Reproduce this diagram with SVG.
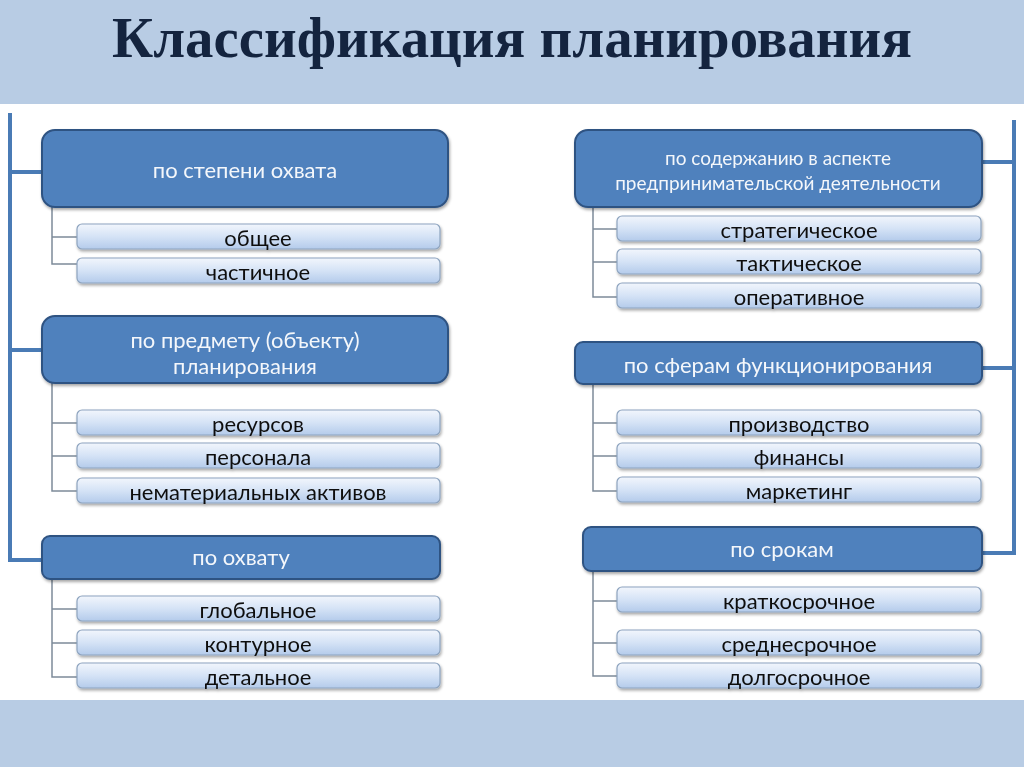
<svg xmlns="http://www.w3.org/2000/svg" width="1024" height="767" viewBox="0 0 1024 767">
<defs>
<linearGradient id="subg" x1="0" y1="0" x2="0" y2="1">
<stop offset="0" stop-color="#f2f6fc"/>
<stop offset="0.5" stop-color="#d5e3f6"/>
<stop offset="1" stop-color="#b4cbeb"/>
</linearGradient>
<filter id="sh" x="-5%" y="-20%" width="110%" height="150%">
<feGaussianBlur in="SourceAlpha" stdDeviation="1.5"/>
<feOffset dx="1" dy="2" result="o"/>
<feComponentTransfer><feFuncA type="linear" slope="0.35"/></feComponentTransfer>
<feMerge><feMergeNode/><feMergeNode in="SourceGraphic"/></feMerge>
</filter>
</defs>
<style>
.hdr{fill:#4f81bd;stroke:#2f5382;stroke-width:2}
.sub{fill:url(#subg);stroke:#8ea4bf;stroke-width:1.2}
.ht{font-family:Lato,"Open Sans","Liberation Sans",sans-serif;font-size:22px;fill:#f4f7fb;text-anchor:middle}
.ht2{font-size:19px}
.st{font-family:Lato,"Open Sans","Liberation Sans",sans-serif;font-size:22px;fill:#111;text-anchor:middle}
.thick{fill:none;stroke:#4a7bb5;stroke-width:4}
.thin{fill:none;stroke:#7d8b99;stroke-width:1.5}
</style>
<rect x="0" y="0" width="1024" height="767" fill="#ffffff"/>
<rect x="0" y="0" width="1024" height="104" fill="#b8cce4"/>
<rect x="0" y="700" width="1024" height="67" fill="#b8cce4"/>
<text x="512" y="57" text-anchor="middle" font-family="'Liberation Serif',serif" font-weight="bold" font-size="58" fill="#14243f" textLength="800" lengthAdjust="spacingAndGlyphs">Классификация планирования</text>

<g id="connectors">
<path class="thick" d="M10 113 V560 H42 M10 172 H42 M10 350 H42"/>
<path class="thick" d="M1014 120 V553 H982 M1014 162 H982 M1014 368 H982"/>
<path class="thin" d="M52 207 V264 H77 M52 237 H77"/>
<path class="thin" d="M52 383 V491 H77 M52 423 H77 M52 456 H77"/>
<path class="thin" d="M52 579 V677 H77 M52 609 H77 M52 643 H77"/>
<path class="thin" d="M593 207 V297 H617 M593 229 H617 M593 262 H617"/>
<path class="thin" d="M593 384 V491 H617 M593 423 H617 M593 456 H617"/>
<path class="thin" d="M593 571 V676 H617 M593 601 H617 M593 643 H617"/>
</g>

<g id="h1" filter="url(#sh)"><rect class="hdr" x="42" y="130" width="406" height="77" rx="13"/><text class="ht" x="245" y="178">по степени охвата</text></g>
<g id="s1a" filter="url(#sh)"><rect class="sub" x="77" y="224" width="363" height="25" rx="5"/><text class="st" x="258" y="246">общее</text></g>
<g id="s1b" filter="url(#sh)"><rect class="sub" x="77" y="258" width="363" height="25" rx="5"/><text class="st" x="258" y="280">частичное</text></g>

<g id="h2" filter="url(#sh)"><rect class="hdr" x="42" y="316" width="406" height="67" rx="13"/><text class="ht" x="245" y="348">по предмету (объекту)</text><text class="ht" x="245" y="374">планирования</text></g>
<g id="s2a" filter="url(#sh)"><rect class="sub" x="77" y="410" width="363" height="25" rx="5"/><text class="st" x="258" y="432">ресурсов</text></g>
<g id="s2b" filter="url(#sh)"><rect class="sub" x="77" y="443" width="363" height="25" rx="5"/><text class="st" x="258" y="465">персонала</text></g>
<g id="s2c" filter="url(#sh)"><rect class="sub" x="77" y="478" width="363" height="25" rx="5"/><text class="st" x="258" y="500">нематериальных активов</text></g>

<g id="h3" filter="url(#sh)"><rect class="hdr" x="42" y="536" width="398" height="43" rx="8"/><text class="ht" x="241" y="565">по охвату</text></g>
<g id="s3a" filter="url(#sh)"><rect class="sub" x="77" y="596" width="363" height="25" rx="5"/><text class="st" x="258" y="618">глобальное</text></g>
<g id="s3b" filter="url(#sh)"><rect class="sub" x="77" y="630" width="363" height="25" rx="5"/><text class="st" x="258" y="652">контурное</text></g>
<g id="s3c" filter="url(#sh)"><rect class="sub" x="77" y="663" width="363" height="25" rx="5"/><text class="st" x="258" y="685">детальное</text></g>

<g id="h4" filter="url(#sh)"><rect class="hdr" x="575" y="130" width="407" height="77" rx="13"/><text class="ht ht2" x="778" y="165">по содержанию в аспекте</text><text class="ht ht2" x="778" y="190">предпринимательской деятельности</text></g>
<g id="s4a" filter="url(#sh)"><rect class="sub" x="617" y="216" width="364" height="25" rx="5"/><text class="st" x="799" y="238">стратегическое</text></g>
<g id="s4b" filter="url(#sh)"><rect class="sub" x="617" y="249" width="364" height="25" rx="5"/><text class="st" x="799" y="271">тактическое</text></g>
<g id="s4c" filter="url(#sh)"><rect class="sub" x="617" y="283" width="364" height="25" rx="5"/><text class="st" x="799" y="305">оперативное</text></g>

<g id="h5" filter="url(#sh)"><rect class="hdr" x="575" y="342" width="407" height="42" rx="8"/><text class="ht" x="778" y="373">по сферам функционирования</text></g>
<g id="s5a" filter="url(#sh)"><rect class="sub" x="617" y="410" width="364" height="25" rx="5"/><text class="st" x="799" y="432">производство</text></g>
<g id="s5b" filter="url(#sh)"><rect class="sub" x="617" y="443" width="364" height="25" rx="5"/><text class="st" x="799" y="465">финансы</text></g>
<g id="s5c" filter="url(#sh)"><rect class="sub" x="617" y="477" width="364" height="25" rx="5"/><text class="st" x="799" y="499">маркетинг</text></g>

<g id="h6" filter="url(#sh)"><rect class="hdr" x="583" y="527" width="399" height="44" rx="8"/><text class="ht" x="782" y="557">по срокам</text></g>
<g id="s6a" filter="url(#sh)"><rect class="sub" x="617" y="587" width="364" height="25" rx="5"/><text class="st" x="799" y="609">краткосрочное</text></g>
<g id="s6b" filter="url(#sh)"><rect class="sub" x="617" y="630" width="364" height="25" rx="5"/><text class="st" x="799" y="652">среднесрочное</text></g>
<g id="s6c" filter="url(#sh)"><rect class="sub" x="617" y="663" width="364" height="25" rx="5"/><text class="st" x="799" y="685">долгосрочное</text></g>
</svg>
